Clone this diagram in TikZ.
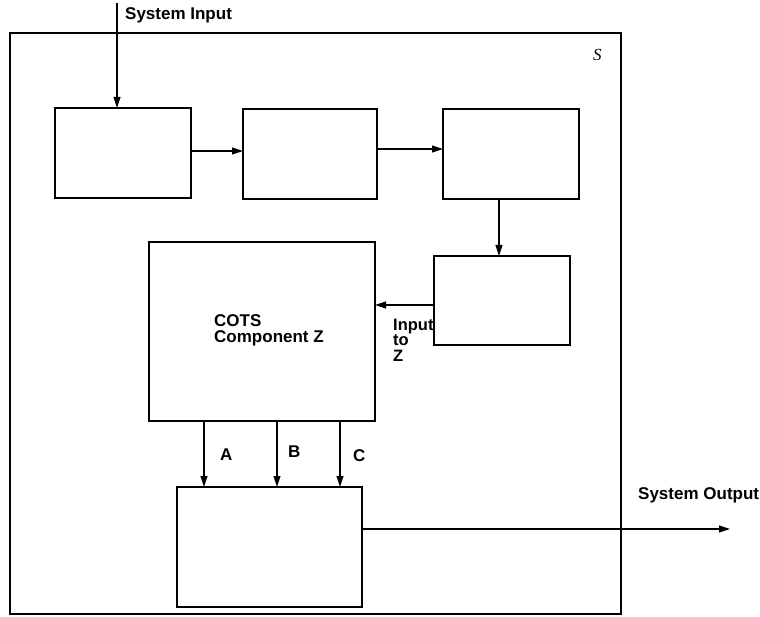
\documentclass[tikz,border=0pt]{standalone}
\usepackage{fontspec}
\setmainfont{Liberation Sans}
\newfontfamily\serifit{Liberation Serif}
\usetikzlibrary{arrows.meta}
\begin{document}
\begin{tikzpicture}[x=1pt,y=-1pt,
  blk/.style={draw,line width=1.3pt,minimum width=#1,inner sep=0pt,outer sep=0pt},
  frm/.style={draw,line width=2.6pt,inner sep=0pt,outer sep=0pt},
  arr/.style={line width=1.1pt,-{Triangle[length=11pt,width=7pt]}},
  lbl/.style={font=\fontsize{17}{17}\selectfont\bfseries,inner sep=0pt}]
\useasboundingbox (0,0) rectangle (760,617);
\node[frm,minimum width=611pt,minimum height=581pt] (frame) at (315.5,323.5) {};
\node[blk=136pt,minimum height=90pt] (b1) at (123,153) {};
\node[blk=134pt,minimum height=90pt] (b2) at (310,154) {};
\node[blk=136pt,minimum height=90pt] (b3) at (511,154) {};
\node[blk=136pt,minimum height=89pt] (b4) at (502,300.5) {};
\node[blk=226pt,minimum height=179pt] (cots) at (262,331.5) {};
\node[blk=185pt,minimum height=120pt] (b5) at (269.5,547) {};
\node[font=\fontsize{17}{17}\selectfont\serifit\itshape,inner sep=0pt,anchor=base west] (slbl) at (593,61) {S};
\node[lbl,anchor=base west] (sin) at (125,20) {System Input};
\node[lbl,anchor=base west] (sout) at (638,499) {System Output};
\node[lbl,anchor=base west,align=left,font=\fontsize{17}{16.5}\selectfont\bfseries] (cotslbl) at (214,343) {COTS\\Component Z};
\node[lbl,anchor=base west,align=left,font=\fontsize{16.5}{16}\selectfont\bfseries] (inz) at (393,362) {Input\\to\\Z};
\node[lbl,anchor=base west] (la) at (220,460) {A};
\node[lbl,anchor=base west] (lb) at (288,457) {B};
\node[lbl,anchor=base west] (lc) at (353,461) {C};
\coordinate (inp) at (117,3);
\coordinate (outp) at (730,529);
\draw[arr] (inp) -- (inp |- b1.north);
\draw[arr] (b1.east |- 0,151) -- (b2.west |- 0,151);
\draw[arr] (b2.east |- 0,149) -- (b3.west |- 0,149);
\draw[arr] (b3.south -| 499,0) -- (b4.north -| 499,0);
\draw[arr] (b4.west |- 0,305) -- (cots.east |- 0,305);
\draw[arr] (cots.south -| 204,0) -- (b5.north -| 204,0);
\draw[arr] (cots.south -| 277,0) -- (b5.north -| 277,0);
\draw[arr] (cots.south -| 340,0) -- (b5.north -| 340,0);
\draw[arr] (b5.east |- outp) -- (outp);
\end{tikzpicture}
\end{document}
